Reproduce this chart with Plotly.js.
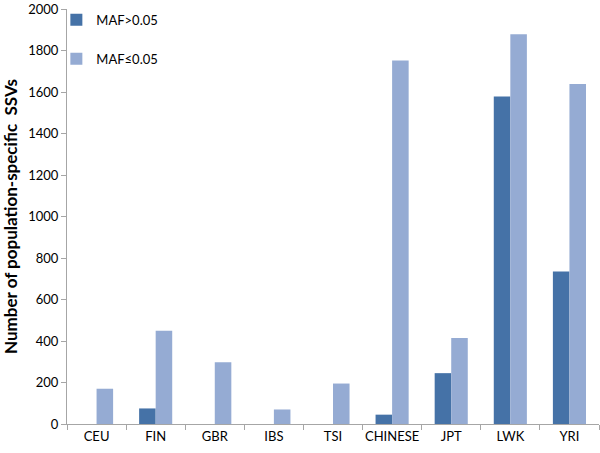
<!DOCTYPE html>
<html>
<head>
<meta charset="utf-8">
<script src="https://cdn.plot.ly/plotly-3.0.1.min.js"></script>
<style>
  body { margin: 0; background: #fff; }
  #ssvPlot { width: 600px; height: 453px; }
</style>
</head>
<body>
<div id="ssvPlot"></div>
<script>
let populations = ["CEU", "FIN", "GBR", "IBS", "TSI", "CHINESE", "JPT", "LWK", "YRI"];
let commonCounts = [0, 75, 0, 0, 0, 45, 245, 1578, 735];
let rareCounts = [170, 450, 298, 70, 195, 1752, 415, 1878, 1638];

function makeSsvPlot(plotDiv) {

  let axisGrey = "#a6a6a6";

  let trace1 = {
    x: populations,
    y: commonCounts,
    name: "MAF>0.05",
    type: "bar",
    legendgroup: "a",
    marker: { color: "#4572a7" }
  };

  let trace2 = {
    x: populations,
    y: rareCounts,
    name: "MAF\u22640.05",
    type: "bar",
    legendgroup: "b",
    marker: { color: "#95abd3" }
  };

  let layout = {
    width: 600,
    height: 453,
    barmode: "group",
    bargap: 0.44,
    bargroupgap: 0,
    font: { family: "Lato, sans-serif", size: 13, color: "#000" },
    paper_bgcolor: "#fff",
    plot_bgcolor: "#fff",
    margin: { l: 67, r: 1, t: 9, b: 29 },
    showlegend: true,
    legend: {
      x: -0.02,
      y: 1.01,
      xanchor: "left",
      yanchor: "top",
      itemwidth: 30,
      tracegroupgap: 19,
      font: { size: 13 },
      bgcolor: "rgba(0,0,0,0)"
    },
    xaxis: {
      type: "category",
      showgrid: false,
      showline: true,
      linecolor: axisGrey,
      linewidth: 1,
      ticks: "outside",
      tickson: "boundaries",
      ticklen: 5,
      tickcolor: axisGrey,
      tickangle: 0,
      zeroline: false
    },
    yaxis: {
      range: [0, 2000],
      dtick: 200,
      showgrid: false,
      showline: true,
      linecolor: axisGrey,
      linewidth: 1,
      ticks: "outside",
      ticklen: 5,
      tickcolor: axisGrey,
      zeroline: false,
      title: {
        text: "<b>Number of population-specific  SSVs</b>",
        font: { size: 17 },
        standoff: 6
      }
    }
  };

  Plotly.newPlot(plotDiv, [trace1, trace2], layout, { displayModeBar: false });
}

makeSsvPlot(document.getElementById("ssvPlot"));
</script>
</body>
</html>
